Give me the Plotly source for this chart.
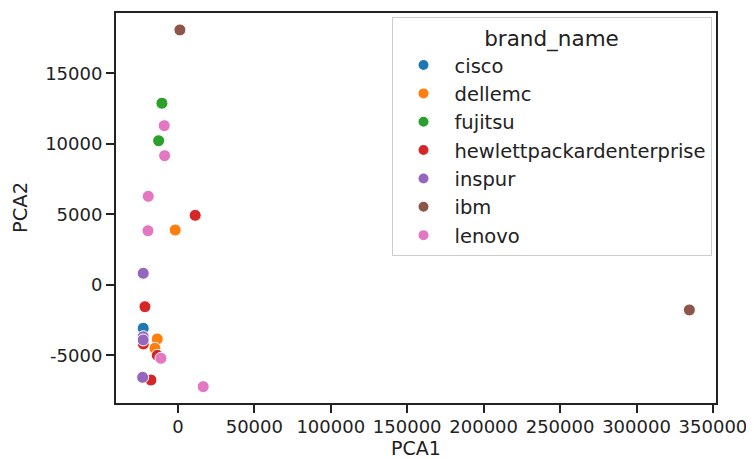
import plotly.graph_objects as go

brands = ["cisco", "dellemc", "fujitsu", "hewlettpackardenterprise", "inspur", "ibm", "lenovo"]
colors = ["#1f77b4", "#ff7f0e", "#2ca02c", "#d62728", "#9467bd", "#8c564b", "#e377c2"]

pca1 = {
    "cisco": [-22700],
    "dellemc": [-1760, -13500, -15030],
    "fujitsu": [-10460, -12600],
    "hewlettpackardenterprise": [11300, -21570, -22600, -13500, -17650],
    "inspur": [-22680, -22700, -22700, -23070],
    "ibm": [1300, 334600],
    "lenovo": [-8950, -8700, -19400, -19600, -11100, 16540],
}
pca2 = {
    "cisco": [-3070],
    "dellemc": [3900, -3830, -4490],
    "fujitsu": [12890, 10230],
    "hewlettpackardenterprise": [4940, -1540, -4180, -4990, -6740],
    "inspur": [830, -3670, -3900, -6550],
    "ibm": [18090, -1770],
    "lenovo": [11300, 9170, 6290, 3850, -5200, -7210],
}

x_ticks = [0, 50000, 100000, 150000, 200000, 250000, 300000, 350000]
y_ticks = [-5000, 0, 5000, 10000, 15000]
x_label = "PCA1"
y_label = "PCA2"

fig = go.Figure()
for b, c in zip(brands, colors):
    fig.add_trace(go.Scatter(
        x=pca1[b], y=pca2[b], mode="markers", name=b,
        marker=dict(color=c, size=12, line=dict(color="white", width=1)),
    ))

font = "DejaVu Sans"
axis_common = dict(
    showgrid=False, zeroline=False, showline=True, linecolor="#222", linewidth=2,
    mirror=True, ticks="outside", ticklen=8, tickwidth=2, tickcolor="#222",
    tickfont=dict(family=font, size=18, color="#222"), automargin=False,
)
# page body has an 8px margin, so the figure is shrunk by 8px in each direction
fig.update_layout(
    width=746, height=451,
    margin=dict(l=108, r=38, t=5, b=56),
    plot_bgcolor="white", paper_bgcolor="white",
    showlegend=True,
    xaxis=dict(range=[-40500, 352000], tickvals=x_ticks, ticklabelstandoff=-2,
               ticktext=[str(v) for v in x_ticks], **axis_common),
    yaxis=dict(range=[-8370, 19290], tickvals=y_ticks,
               ticktext=[str(v) for v in y_ticks], **axis_common),
    legend=dict(
        x=0.9925, y=0.99, xanchor="right", yanchor="top",
        bgcolor="white", bordercolor="#cccccc", borderwidth=1,
        font=dict(family=font, size=19.5, color="#222"),
        title=dict(text="brand_name", side="top center", font=dict(family=font, size=21.5, color="#222")),
        itemsizing="constant", itemwidth=52,
    ),
    annotations=[
        dict(text=x_label, xref="paper", yref="paper", x=0.5, y=0, yshift=-45,
             xanchor="center", yanchor="middle", showarrow=False, borderpad=0,
             font=dict(family=font, size=19, color="#222")),
        dict(text=y_label, xref="paper", yref="paper", x=0, y=0.5, xshift=-96,
             xanchor="center", yanchor="middle", showarrow=False, textangle=-90,
             font=dict(family=font, size=19.5, color="#222")),
    ],
)
fig.write_html("out.html")
